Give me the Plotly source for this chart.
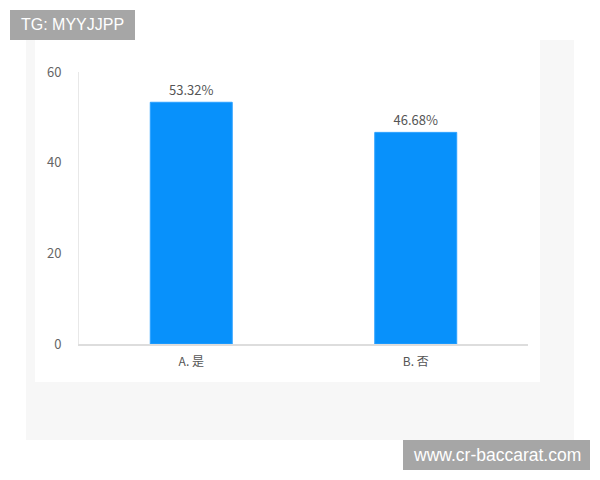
import plotly.graph_objects as go

categories = ["A. 是", "B. 否"]
values = [53.32, 46.68]
value_labels = ["53.32%", "46.68%"]
y_ticks = [0, 20, 40, 60]

OFF = 8  # page body offset
W, H = 600, 480
L, R, T, B = 79 - OFF, W - (528 - OFF), 72 - OFF, H - (344 - OFF)
pw, ph = W - L - R, H - T - B

def px(x):
    return (x - OFF - L) / pw

def py(y):
    return (H - B - (y - OFF)) / ph

fig = go.Figure(go.Bar(
    x=categories, y=values, text=value_labels, textposition="outside",
    textfont=dict(size=13, color="#555555", family="Noto Sans CJK SC"),
    marker=dict(color="#0891fb", line=dict(color="#2aa0ff", width=1)),
    width=0.365, cliponaxis=False,
))

shapes = [
    dict(type="rect", xref="paper", yref="paper", x0=px(26), x1=px(574), y0=py(440), y1=py(40),
         fillcolor="#f7f7f7", line=dict(width=0), layer="below"),
    dict(type="rect", xref="paper", yref="paper", x0=px(35), x1=px(540), y0=py(382), y1=py(40),
         fillcolor="#ffffff", line=dict(width=0), layer="below"),
    dict(type="rect", xref="paper", yref="paper", x0=px(10), x1=px(135), y0=py(40), y1=py(10),
         fillcolor="#a6a6a6", line=dict(width=0), layer="above"),
    dict(type="rect", xref="paper", yref="paper", x0=px(403), x1=px(590), y0=py(470), y1=py(440),
         fillcolor="#a6a6a6", line=dict(width=0), layer="above"),
]

annotations = [
    dict(text="TG: MYYJJPP", xref="paper", yref="paper", x=px(72.5), y=py(25), showarrow=False,
         xanchor="center", yanchor="middle", font=dict(size=16, color="#ffffff", family="Liberation Sans")),
    dict(text="www.cr-baccarat.com", xref="paper", yref="paper", x=px(496.5), y=py(455), showarrow=False,
         xanchor="center", yanchor="middle", font=dict(size=17.5, color="#ffffff", family="Liberation Sans")),
]

fig.update_layout(
    width=W, height=H, margin=dict(l=L, r=R, t=T, b=B),
    paper_bgcolor="#ffffff", plot_bgcolor="rgba(0,0,0,0)",
    shapes=shapes, annotations=annotations, showlegend=False,
    font=dict(family="Noto Sans CJK SC", color="#666666"),
    xaxis=dict(range=[-0.5, 1.5], showline=True, linecolor="#dddddd", linewidth=2,
               showgrid=False, ticks="", tickfont=dict(size=12, color="#555555"),
               ticklabelstandoff=6, fixedrange=True),
    yaxis=dict(range=[0, 60], tickvals=y_ticks, showline=True, linecolor="#e8e8e8", linewidth=1,
               showgrid=False, zeroline=False, ticks="", tickfont=dict(size=13, color="#666666"),
               ticklabelstandoff=14, fixedrange=True),
)

fig.write_html("out.html")
